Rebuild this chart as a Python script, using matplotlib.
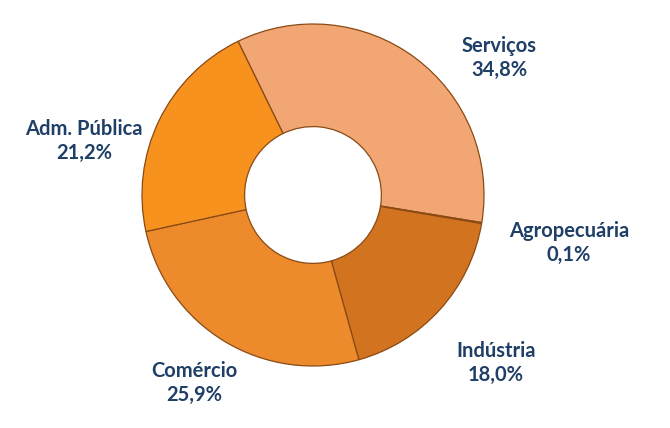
import matplotlib
matplotlib.use("Agg")
import matplotlib.pyplot as plt

categories = ["Serviços", "Agropecuária", "Indústria", "Comércio", "Adm. Pública"]
values = [34.8, 0.1, 18.0, 25.9, 21.2]
value_labels = ["34,8%", "0,1%", "18,0%", "25,9%", "21,2%"]

colors = ["#F2A674", "#B8621C", "#D2731F", "#EC8A2C", "#F7921F"]
label_pos = [(499, 58), (569, 243), (496, 363), (194, 383), (84, 141)]  # pixel centers

W, H = 670, 428
fig = plt.figure(figsize=(W / 100, H / 100), dpi=100)
cx, cy, r = 313, 195, 171
ax = fig.add_axes([(cx - r) / W, (H - cy - r) / H, 2 * r / W, 2 * r / H])
ax.pie(values, startangle=116, counterclock=False, colors=colors, radius=1.0,
       wedgeprops=dict(width=0.6, edgecolor="#8A4A14", linewidth=0.9))
ax.set_xlim(-1, 1)
ax.set_ylim(-1, 1)
ax.set_aspect("equal")
ax.axis("off")

for cat, lab, (px, py) in zip(categories, value_labels, label_pos):
    fig.text(px / W, 1 - py / H, f"{cat}\n{lab}", ha="center", va="center",
             fontsize=14.5, fontweight="bold", family="Lato", color="#1F3F66",
             linespacing=1.2)

fig.savefig("out.png", dpi=100)
